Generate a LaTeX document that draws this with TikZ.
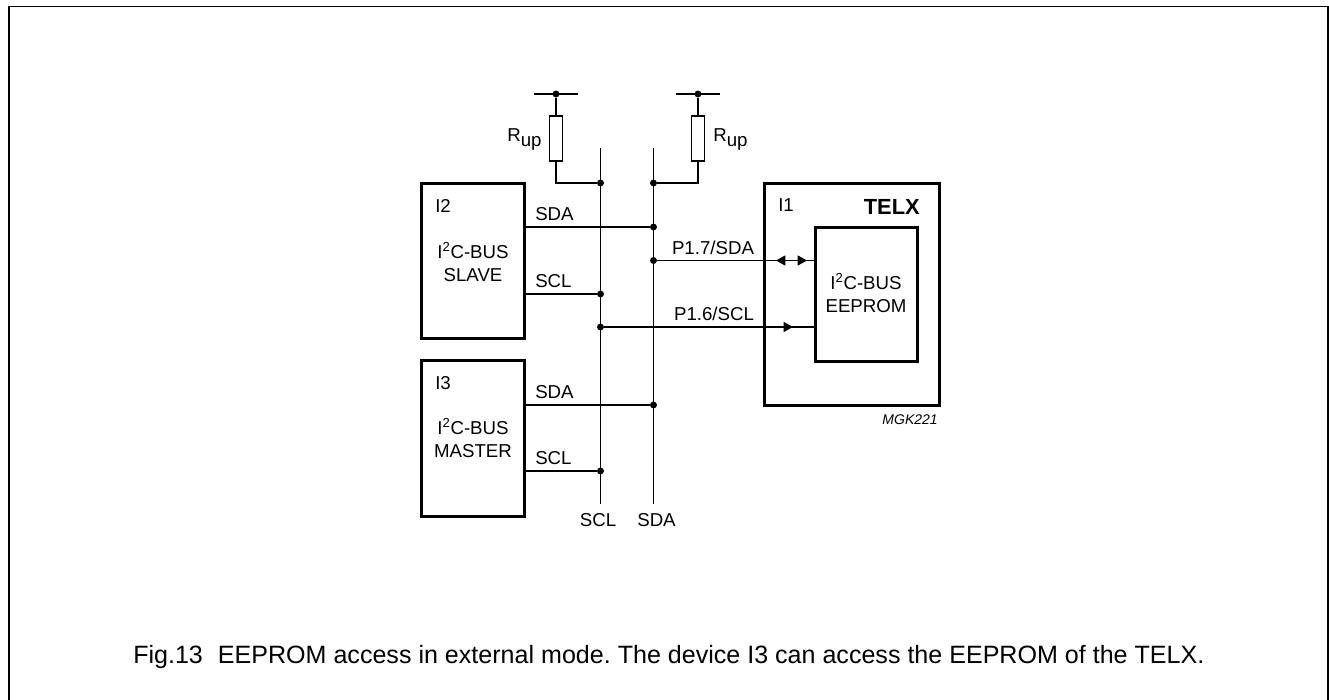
\documentclass[tikz,border=0pt]{standalone}
\usepackage{fontspec}
\setmainfont{Liberation Sans}
\usetikzlibrary{arrows.meta,positioning,calc}

\tikzset{
  chipbox/.style={draw,line width=2.25pt,outer sep=0pt,anchor=north west,inner sep=0pt},
  resbox/.style={draw,fill=white,line width=1.1pt,minimum width=10pt,minimum height=34pt,inner sep=0pt},
  wire/.style={line width=1pt},
  lbl/.style={inner sep=0pt,font=\fontsize{14}{16.7}\selectfont},
  dot/.style={circle,fill=black,inner sep=0pt,minimum size=5.2pt},
  tip/.style={wire,-{Triangle[length=7pt,width=7.5pt]}}
}

\begin{document}
\frenchspacing
\begin{tikzpicture}[x=0.75pt,y=-0.75pt]
  \useasboundingbox (0,0) rectangle (1329,700);
  \coordinate (framea) at (9,700);
  \coordinate (frameb) at (9,6.5);
  \coordinate (framec) at (1328,6.5);
  \coordinate (framed) at (1328,700);
  \draw[line width=1.4pt] (framea) -- (frameb) -- (framec) -- (framed);

  % chips
  \node[chipbox,minimum width=77.6pt,minimum height=116.25pt] (i2) at (421.5,183) {};
  \node[chipbox,minimum width=77.6pt,minimum height=117pt] (i3) at (421.5,360) {};
  \node[chipbox,minimum width=131.25pt,minimum height=166.5pt] (i1) at (764,183) {};
  \node[chipbox,minimum width=76.5pt,minimum height=100.5pt] (eeprom) at (815,227) {};

  % bus rails
  \coordinate (scltop) at (600.5,148);
  \coordinate (sclbot) at (600.5,504);
  \coordinate (sdatop) at (653.5,148);
  \coordinate (sdabot) at (653.5,504);
  \draw[wire] (scltop) -- (sclbot);
  \draw[wire] (sdatop) -- (sdabot);

  % pull ups
  \node[dot] (vleft) at (556,94) {};
  \node[dot] (vright) at (698,94) {};
  \coordinate (vlefta) at (534,94);
  \coordinate (vleftb) at (578,94);
  \coordinate (vrighta) at (676,94);
  \coordinate (vrightb) at (720,94);
  \draw[wire] (vlefta) -- (vleftb);
  \draw[wire] (vrighta) -- (vrightb);
  \node[dot] (jscl) at (600.5,183) {};
  \node[dot] (jsda) at (653.5,183) {};
  \node[resbox] (rleft) at (556,138.5) {};
  \node[resbox] (rright) at (698,138.5) {};
  \draw[wire] (vleft) -- (rleft);
  \draw[wire] (vright) -- (rright);
  \draw[wire] (rleft) |- (jscl);
  \draw[wire] (rright) |- (jsda);
  \node[lbl,anchor=west] (rleftl) at (507,140) {R\raisebox{-3.75pt}{up}};
  \node[lbl,anchor=west] (rrightl) at (713,140) {R\raisebox{-3.75pt}{up}};

  % I2
  \node[dot] (a1) at (653.5,227) {};
  \node[dot] (b1) at (600.5,294) {};
  \draw[wire] (a1) -- (a1-|i2.east);
  \draw[wire] (b1) -- (b1-|i2.east);
  \node[lbl,anchor=west] (a1l) at (535,214) {SDA};
  \node[lbl,anchor=west] (b1l) at (535,281) {SCL};
  \node[lbl,anchor=west] (i2l) at (435,206) {I2};
  \node[lbl,align=center] (i2t) at (473,262) {I\textsuperscript{2}C-BUS\\SLAVE};

  % I3
  \node[dot] (a2) at (653.5,405) {};
  \node[dot] (b2) at (600.5,471) {};
  \draw[wire] (a2) -- (a2-|i3.east);
  \draw[wire] (b2) -- (b2-|i3.east);
  \node[lbl,anchor=west] (a2l) at (535,392) {SDA};
  \node[lbl,anchor=west] (b2l) at (535,458) {SCL};
  \node[lbl,anchor=west] (i3l) at (435,383) {I3};
  \node[lbl,align=center] (i3t) at (473,438) {I\textsuperscript{2}C-BUS\\MASTER};

  % I1
  \node[dot] (p17) at (653.5,260.5) {};
  \node[dot] (p16) at (600.5,327) {};
  \coordinate (p17m) at (786,260.5);
  \coordinate (p17a) at (776,260.5);
  \coordinate (p17n) at (797,260.5);
  \coordinate (p17b) at (807,260.5);
  \coordinate (p16m) at (783,327);
  \coordinate (p16a) at (793,327);
  \draw[wire] (p17) -- (p17-|eeprom.west);
  \draw[wire] (p16) -- (p16-|eeprom.west);
  \draw[tip] (p17m) -- (p17a);
  \draw[tip] (p17n) -- (p17b);
  \draw[tip] (p16m) -- (p16a);
  \node[lbl,anchor=south] (p17l) at (713,255) {P1.7/SDA};
  \node[lbl,anchor=south] (p16l) at (714,321) {P1.6/SCL};
  \node[lbl,anchor=west] (i1l) at (778,205) {I1};
  \node[lbl,anchor=east,font=\fontsize{16.4}{19}\selectfont\bfseries] (telx) at (920,206.5) {TELX};
  \node[lbl,align=center] (eepromt) at (866,293) {I\textsuperscript{2}C-BUS\\EEPROM};
  \node[lbl,anchor=east,font=\fontsize{10.5}{12}\selectfont\itshape] (code) at (938,420) {MGK221};

  % rail ends
  \node[lbl] (scll) at (598,520) {SCL};
  \node[lbl] (sdal) at (656.5,520) {SDA};

  \node[lbl,anchor=base west,font=\fontsize{18.8}{22}\selectfont] (caption) at (133,663) {Fig.13\hspace{0.6em}EEPROM access in external mode. The device I3 can access the EEPROM of the TELX.};
\end{tikzpicture}
\end{document}
